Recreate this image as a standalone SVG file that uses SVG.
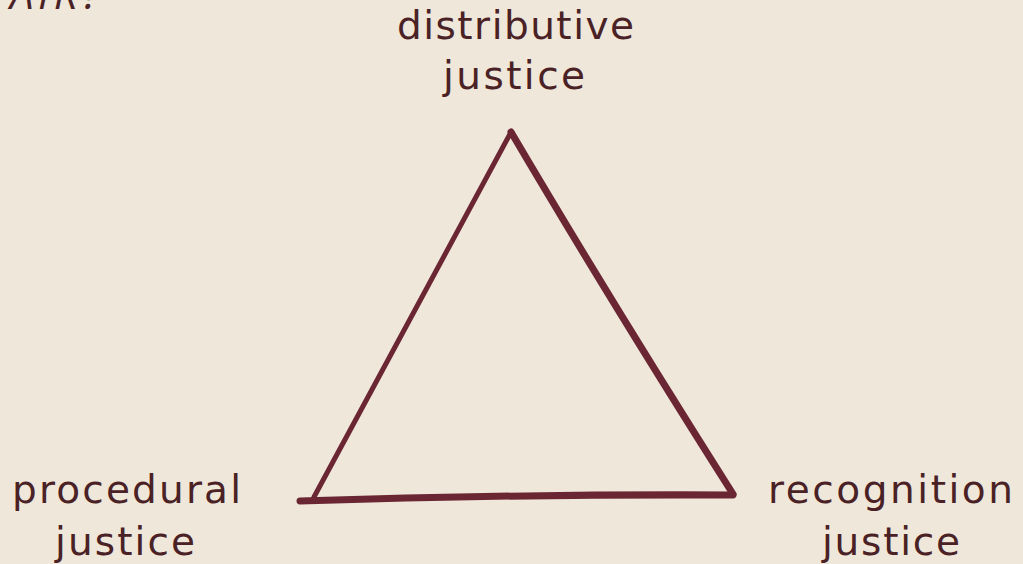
<svg xmlns="http://www.w3.org/2000/svg" width="1023" height="564" viewBox="0 0 1023 564">
<style>
.t{font-family:"DejaVu Sans","Open Sans",sans-serif;font-size:39px;fill:#4a2226}
.e{fill:none;stroke:#6b2633;stroke-linecap:round;stroke-linejoin:round}
</style>
<rect width="1023" height="564" fill="#efe7d9"/>
<text x="10" y="9" textLength="90" style="font-family:'Open Sans','Noto Sans',sans-serif;font-size:42px;font-style:italic;fill:#4a2226">AIR?</text>
<g id="node-distributive"><text class="t" x="397" y="39" textLength="237">distributive</text><text class="t" x="443" y="89" textLength="142">justice</text></g>
<g id="node-procedural"><text class="t" x="12" y="503" textLength="229">procedural</text><text class="t" x="55" y="555" textLength="140">justice</text></g>
<g id="node-recognition"><text class="t" x="768" y="503" textLength="245">recognition</text><text class="t" x="822" y="555" textLength="138">justice</text></g>
<g id="connectors">
<path class="e" d="M510 134 Q420 300 314 497" stroke-width="5"/>
<path class="e" d="M511 132 Q610 300 733 494" stroke-width="7"/>
<path class="e" d="M300 501 Q520 494 733 495" stroke-width="7"/>
</g>
</svg>
